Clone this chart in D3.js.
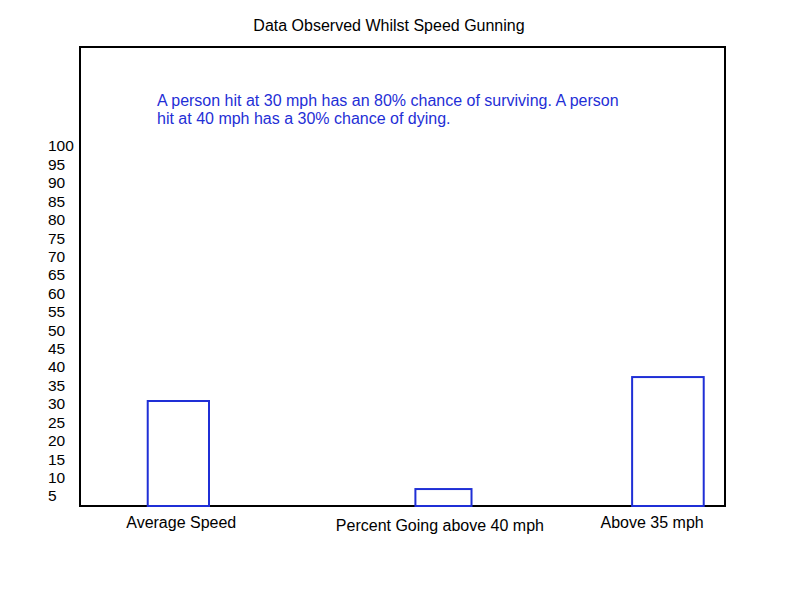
<!DOCTYPE html>
<html><head><meta charset="utf-8">
<script src="https://cdn.jsdelivr.net/npm/d3@7"></script>
<style>body{margin:0;background:#fff;font-family:"Liberation Sans",Arial,sans-serif;}</style>
</head><body><div id="viz"></div>
<script>
const categories = ["Average Speed", "Percent Going above 40 mph", "Above 35 mph"];
const values = [28.5, 4.6, 35];
const barStart = [10.5, 52, 85.6];
const barEnd = [20, 60.7, 96.7];
const labelPos = [15.7, 55.8, 88.7];
const yTicks = d3.range(5, 101, 5);
const note = ["A person hit at 30 mph has an 80% chance of surviving. A person",
              "hit at 40 mph has a 30% chance of dying."];

const width = 800, height = 600;
const plot = { left: 80, right: 725, top: 47, bottom: 506 };

const svg = d3.select("#viz").append("svg").attr("width", width).attr("height", height);

const x = d3.scaleLinear().domain([0, 100]).range([plot.left, plot.right]);
const y = d3.scaleLinear().domain([0, 100]).range([plot.bottom, 137.6]);

svg.append("text").attr("x", 389).attr("y", 31).attr("text-anchor", "middle")
  .attr("font-size", 16).text("Data Observed Whilst Speed Gunning");

svg.append("rect").attr("x", plot.left).attr("y", plot.top)
  .attr("width", plot.right - plot.left).attr("height", plot.bottom - plot.top)
  .attr("fill", "none").attr("stroke", "#000").attr("stroke-width", 2);

svg.append("g").selectAll("text").data(yTicks).enter().append("text")
  .attr("x", 48).attr("y", d => y(d) + 8.4).attr("dy", "0.35em")
  .attr("font-size", 15.5).text(d => d);

svg.append("g").selectAll("rect").data(values).enter().append("rect")
  .attr("x", (d, i) => x(barStart[i]))
  .attr("width", (d, i) => x(barEnd[i]) - x(barStart[i]))
  .attr("y", d => y(d)).attr("height", d => y(0) - y(d))
  .attr("fill", "none").attr("stroke", "#1f2fd6").attr("stroke-width", 2);

svg.append("g").selectAll("text").data(categories).enter().append("text")
  .attr("x", (d, i) => x(labelPos[i])).attr("y", (d, i) => i === 1 ? 531 : 528)
  .attr("text-anchor", "middle").attr("font-size", 16).text(d => d);

svg.append("g").selectAll("text").data(note).enter().append("text")
  .attr("x", 157).attr("y", (d, i) => 106 + i * 18)
  .attr("font-size", 16).attr("fill", "#1f2fd6").text(d => d);
</script></body></html>
